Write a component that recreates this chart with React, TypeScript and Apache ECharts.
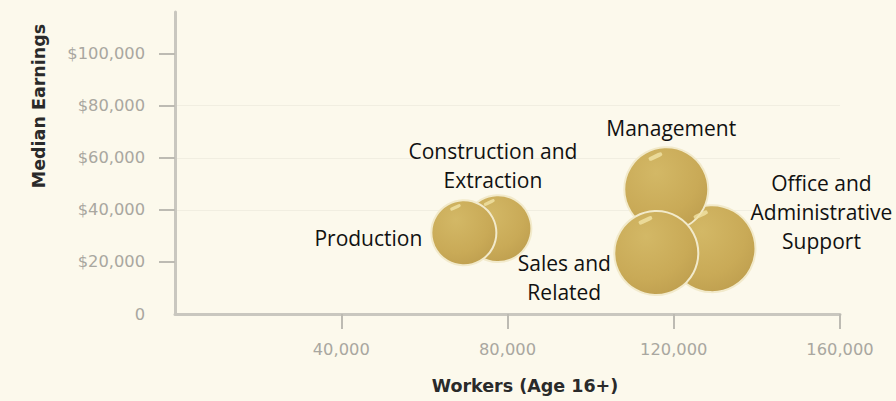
import React, { useEffect, useRef } from 'react';
import * as echarts from 'echarts';

// Drawing order: later items sit on top
const occupations = [
  'Construction and\nExtraction',
  'Production',
  'Office and\nAdministrative\nSupport',
  'Management',
  'Sales and\nRelated',
];
const workers = [77700, 69500, 129200, 118200, 115800];
const medianEarnings = [32800, 31200, 25100, 47900, 23400];
const bubbleWeight = [106, 100, 179, 167, 167];

const xTickValues = [40000, 80000, 120000, 160000];
const yLabelValues = [0, 20000, 40000, 60000, 80000, 100000];
const yTickValues = [20000, 40000, 60000, 80000, 100000];

const xAxisTitle = 'Workers (Age 16+)';
const yAxisTitle = 'Median Earnings';

const labelLayouts: any[] = [
  { position: 'top', distance: 0, offset: [-5, 0], align: 'center' },
  { position: 'left', distance: 8, offset: [0, 5] },
  { position: 'right', distance: 65, offset: [0, -37], align: 'center' },
  { position: 'top', distance: 4, offset: [5, 0], align: 'center' },
  { position: 'left', distance: 49, offset: [0, 24], align: 'center' },
];

export default function App() {
  const ref = useRef<HTMLDivElement>(null);
  useEffect(() => {
    if (!ref.current) return;
    const chart = echarts.init(ref.current, undefined, { renderer: 'svg' });
    const sizeOf = (v: number[]) => Math.sqrt(v[2]) * 6.5;
    const data = occupations.map((name, i) => ({
      name,
      value: [workers[i], medianEarnings[i], bubbleWeight[i]],
      label: labelLayouts[i],
    }));
    const hlData = occupations.map((name, i) => ({
      name,
      value: [workers[i], medianEarnings[i], bubbleWeight[i]],
    }));
    const axisLabelStyle = {
      color: '#a9a7a0',
      fontFamily: 'DejaVu Sans',
      fontSize: 16.3,
    };
    chart.setOption({
      animation: false,
      backgroundColor: '#fcf9ec',
      grid: { left: 175, right: 56, top: 12, bottom: 87 },
      xAxis: {
        type: 'value',
        min: 0,
        max: 160000,
        interval: 40000,
        axisLine: { show: true, lineStyle: { color: '#c9c7bf', width: 3 } },
        axisTick: {
          show: true,
          customValues: xTickValues,
          length: 15,
          lineStyle: { color: '#bdbbb3', width: 2 },
        },
        axisLabel: {
          customValues: xTickValues,
          margin: 27,
          ...axisLabelStyle,
          formatter: (v: number) => v.toLocaleString('en-US'),
        },
        splitLine: { show: false },
      },
      yAxis: {
        type: 'value',
        min: 0,
        max: 116000,
        interval: 20000,
        axisLine: { show: true, lineStyle: { color: '#c9c7bf', width: 3 } },
        axisTick: {
          show: true,
          customValues: yTickValues,
          length: 16,
          lineStyle: { color: '#bdbbb3', width: 2 },
        },
        axisLabel: {
          customValues: yLabelValues,
          margin: 30,
          ...axisLabelStyle,
          formatter: (v: number) => (v === 0 ? '0' : '$' + v.toLocaleString('en-US')),
        },
        splitLine: {
          show: true,
          showMinLine: false,
          showMaxLine: false,
          lineStyle: { color: '#f1eee1', width: 1 },
        },
      },
      graphic: [
        {
          type: 'text',
          x: 525,
          y: 386,
          style: {
            text: xAxisTitle,
            fontFamily: 'DejaVu Sans',
            fontWeight: 'bold',
            fontSize: 17.5,
            fill: '#2a2a2a',
            align: 'center',
            verticalAlign: 'middle',
          },
        },
        {
          type: 'text',
          x: 39,
          y: 106,
          rotation: Math.PI / 2,
          style: {
            text: yAxisTitle,
            fontFamily: 'DejaVu Sans',
            fontWeight: 'bold',
            fontSize: 17.5,
            fill: '#2a2a2a',
            align: 'center',
            verticalAlign: 'middle',
          },
        },
      ],
      series: [
        {
          type: 'scatter',
          data,
          symbolSize: sizeOf,
          itemStyle: {
            color: new echarts.graphic.RadialGradient(0.38, 0.3, 0.85, [
              { offset: 0, color: '#d3b866' },
              { offset: 0.6, color: '#c9aa57' },
              { offset: 1, color: '#bb9b4c' },
            ]),
            borderColor: '#f2eacb',
            borderWidth: 2,
            opacity: 1,
          },
          label: {
            show: true,
            formatter: (p: any) => p.name,
            fontFamily: 'Open Sans',
            fontSize: 21,
            lineHeight: 29,
            color: '#111111',
          },
          emphasis: { disabled: true },
          z: 2,
        },
        {
          type: 'scatter',
          data: hlData,
          silent: true,
          symbol: 'roundRect',
          symbolRotate: 25,
          symbolSize: (v: number[]) => {
            const d = sizeOf(v);
            return [d * 0.17, d * 0.05];
          },
          symbolOffset: ['-76%', '-780%'],
          itemStyle: { color: '#f1e3a6', opacity: 0.8 },
          label: { show: false },
          emphasis: { disabled: true },
          z: 3,
        },
      ],
    });
    return () => chart.dispose();
  }, []);
  return (
    <div
      ref={ref}
      style={{ position: 'fixed', left: 0, top: 0, width: 896, height: 401 }}
    />
  );
}
